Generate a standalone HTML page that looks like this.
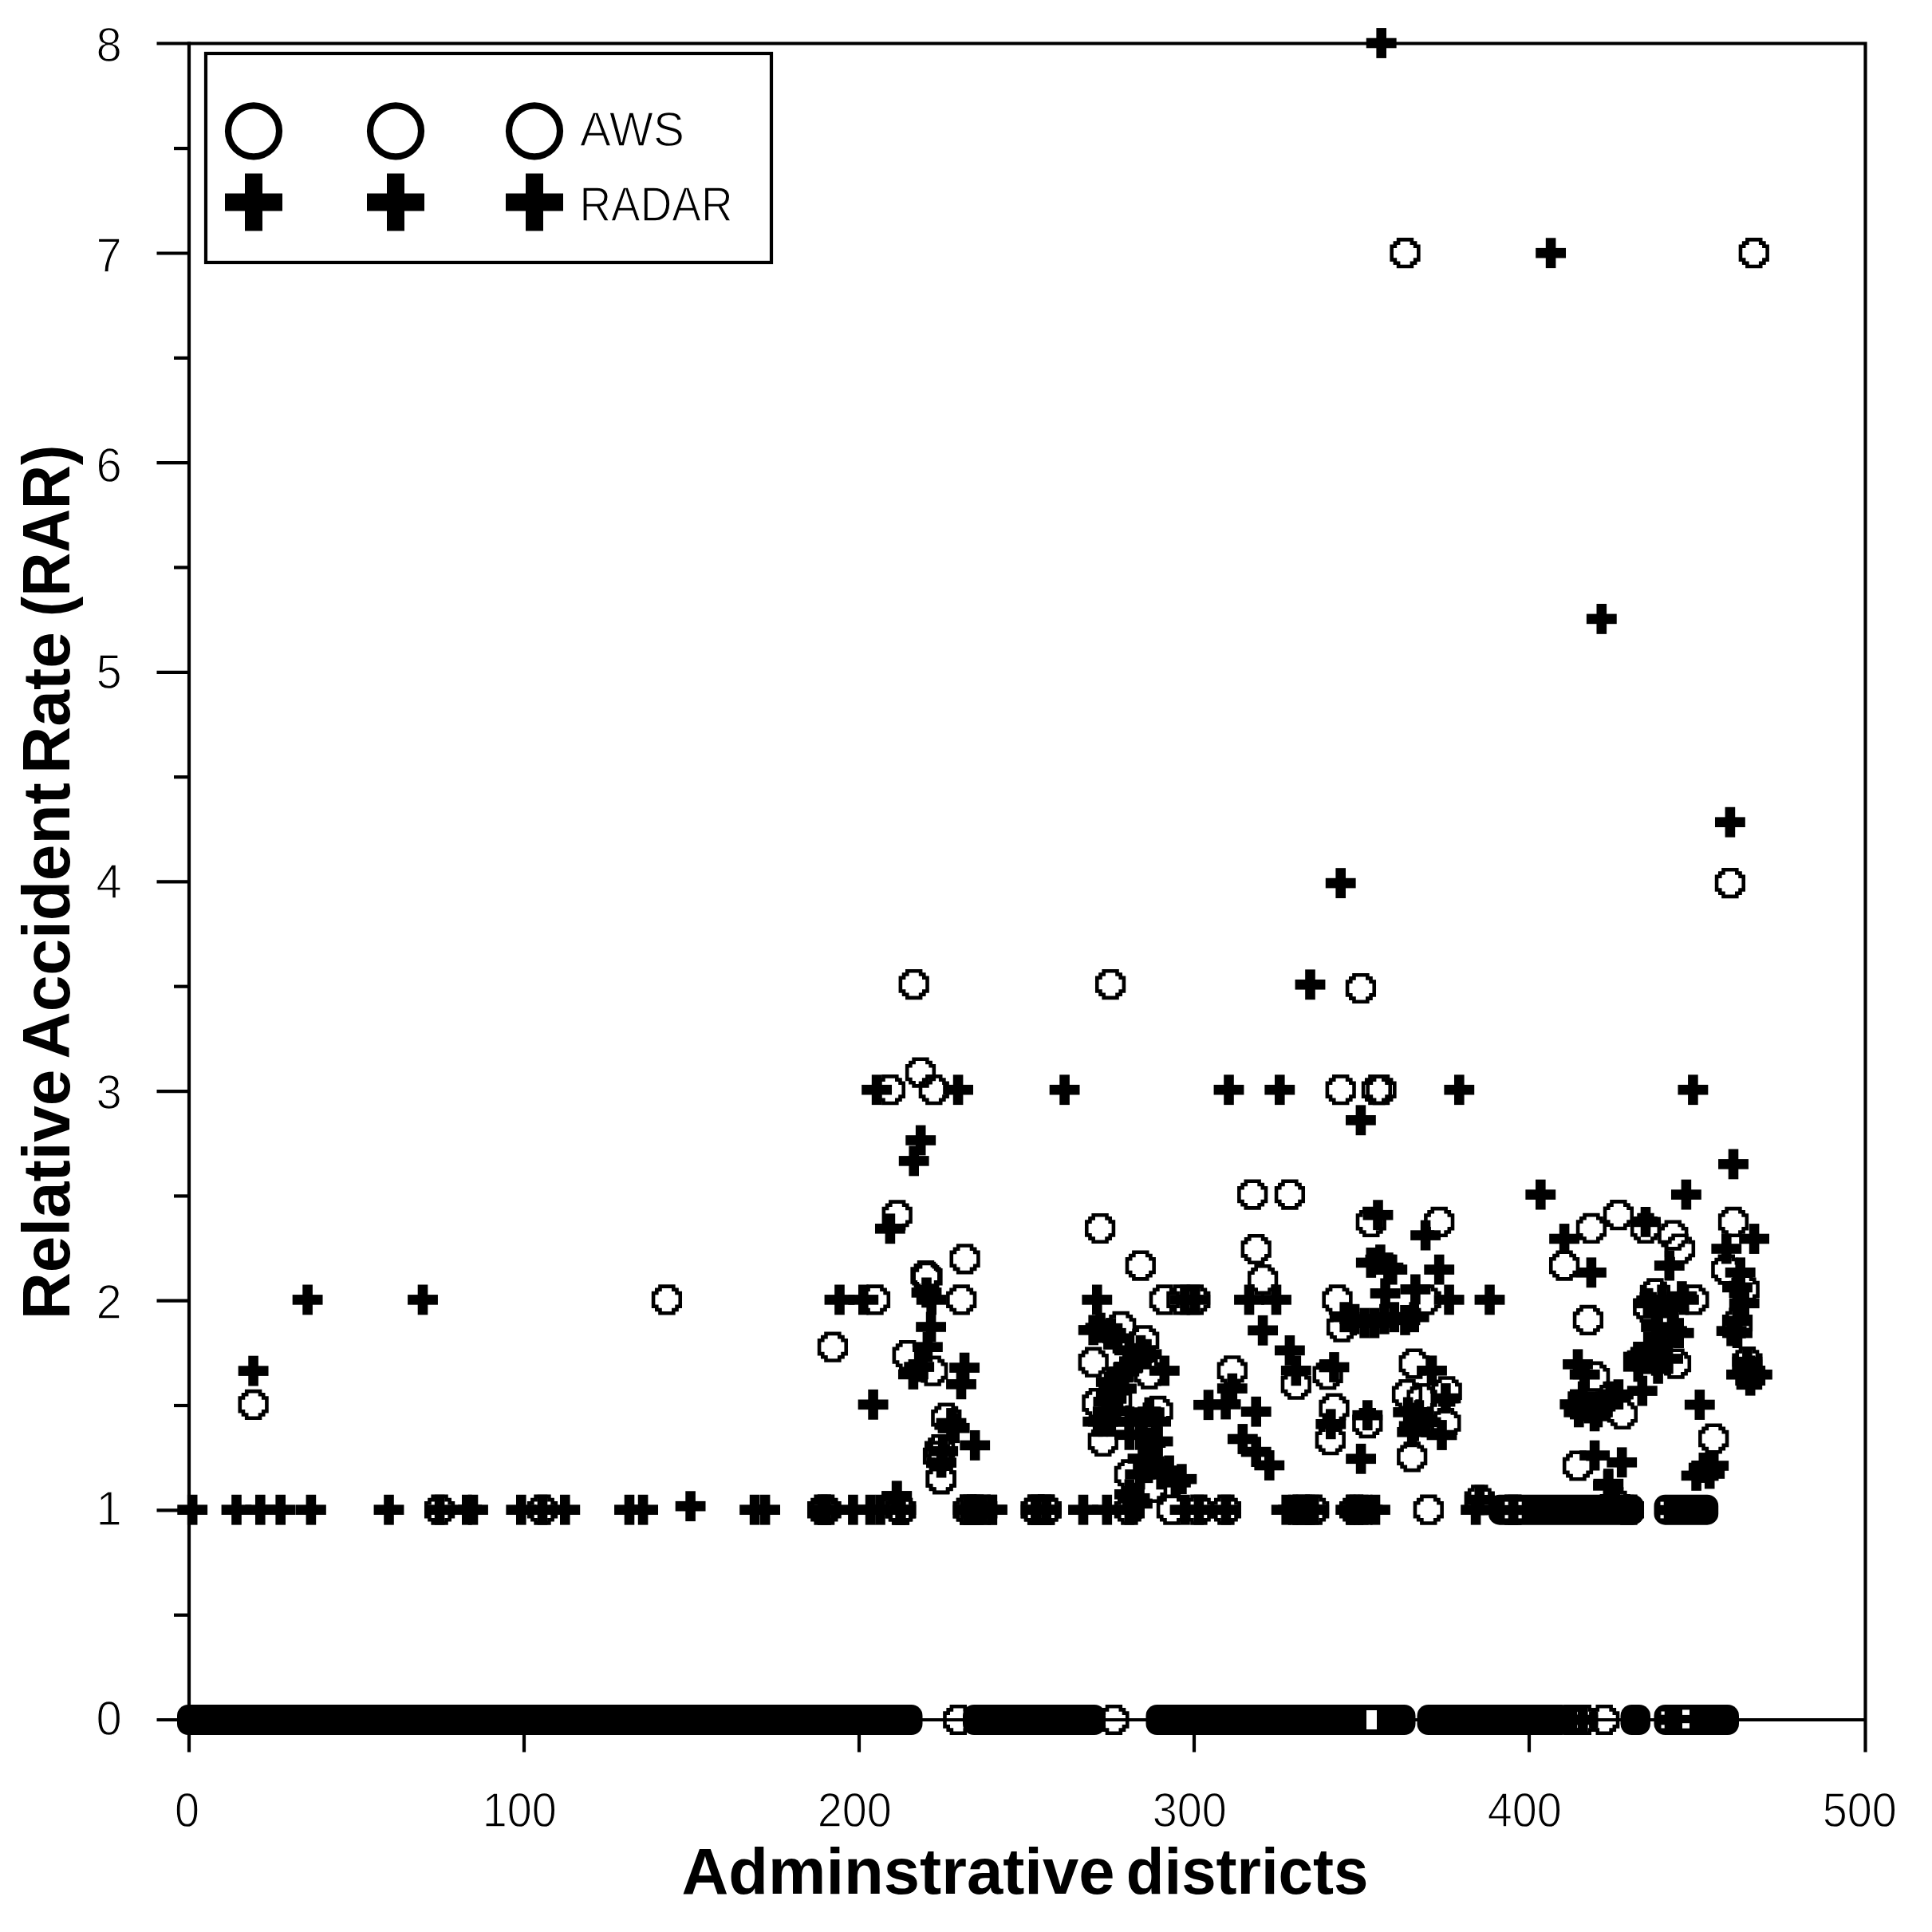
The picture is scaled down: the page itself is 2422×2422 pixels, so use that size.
<!DOCTYPE html>
<html><head><meta charset="utf-8"><title>Relative Accident Rate</title>
<style>html,body{margin:0;padding:0;background:#fff}svg{display:block}text{font-family:"Liberation Sans",sans-serif;fill:#000}.t{font-size:61px;stroke:#fff;stroke-width:1.3px}.b{font-weight:bold}</style></head><body>
<svg width="2422" height="2422" viewBox="0 0 2422 2422">
<rect width="2422" height="2422" fill="#fff"/>
<defs><g id="p"><rect x="-18.92" y="-6.31" width="37.84" height="12.61"/><rect x="-6.31" y="-18.92" width="12.61" height="37.84"/></g><path id="c" d="M-10.71 -19.12h21.42v4.60h-21.42zM-14.92 -14.92h8.81v4.60h-8.81zM6.11 -14.92h8.81v4.60h-8.81zM-19.12 -10.71h8.81v4.60h-8.81zM10.31 -10.71h8.81v4.60h-8.81zM-19.12 -6.51h4.60v4.60h-4.60zM14.52 -6.51h4.60v4.60h-4.60zM-19.12 -2.30h4.60v4.60h-4.60zM14.52 -2.30h4.60v4.60h-4.60zM-19.12 1.90h4.60v4.60h-4.60zM14.52 1.90h4.60v4.60h-4.60zM-19.12 6.11h8.81v4.60h-8.81zM10.31 6.11h8.81v4.60h-8.81zM-14.92 10.31h8.81v4.60h-8.81zM6.11 10.31h8.81v4.60h-8.81zM-10.71 14.52h21.42v4.60h-21.42z"/><g id="P"><rect x="-36" y="-11" width="72" height="22"/><rect x="-11" y="-36" width="22" height="72"/></g><circle id="Cc" r="32" fill="none" stroke="#000" stroke-width="8.2"/></defs>
<g stroke="#000" stroke-width="4.2" fill="none">
<path d="M196.5 54.5H2338.5V2196.5"/>
<path d="M237 52.4V2196.5"/>
<path d="M196.5 2156H2338.5"/>
<path d="M218 2024.7H237"/>
<path d="M196.5 1893.3H237"/>
<path d="M218 1762.0H237"/>
<path d="M196.5 1630.7H237"/>
<path d="M218 1499.4H237"/>
<path d="M196.5 1368.1H237"/>
<path d="M218 1236.7H237"/>
<path d="M196.5 1105.4H237"/>
<path d="M218 974.1H237"/>
<path d="M196.5 842.8H237"/>
<path d="M218 711.4H237"/>
<path d="M196.5 580.1H237"/>
<path d="M218 448.8H237"/>
<path d="M196.5 317.5H237"/>
<path d="M218 186.1H237"/>
<path d="M657.0 2156V2196.5"/>
<path d="M1077.0 2156V2196.5"/>
<path d="M1497.0 2156V2196.5"/>
<path d="M1917.0 2156V2196.5"/>
</g>
<rect x="258" y="67" width="709" height="262" fill="#fff" stroke="#000" stroke-width="4.2"/>
<use href="#Cc" x="318" y="164.3"/>
<use href="#P" x="318" y="253.5"/>
<use href="#Cc" x="496" y="164.3"/>
<use href="#P" x="496" y="253.5"/>
<use href="#Cc" x="670" y="164.3"/>
<use href="#P" x="670" y="253.5"/>
<text class="t" x="727" y="183.3" textLength="131" lengthAdjust="spacingAndGlyphs">AWS</text>
<text class="t" x="726.5" y="276.8" textLength="192" lengthAdjust="spacingAndGlyphs">RADAR</text>
<text class="t" transform="translate(152.8 2174.8) scale(0.95 1)" text-anchor="end">0</text>
<text class="t" transform="translate(152.8 1911.9) scale(0.95 1)" text-anchor="end">1</text>
<text class="t" transform="translate(152.8 1652.8) scale(0.95 1)" text-anchor="end">2</text>
<text class="t" transform="translate(152.8 1389.6) scale(0.95 1)" text-anchor="end">3</text>
<text class="t" transform="translate(152.8 1125.7) scale(0.95 1)" text-anchor="end">4</text>
<text class="t" transform="translate(152.8 862.7) scale(0.95 1)" text-anchor="end">5</text>
<text class="t" transform="translate(152.8 603.7) scale(0.95 1)" text-anchor="end">6</text>
<text class="t" transform="translate(152.8 340.6) scale(0.95 1)" text-anchor="end">7</text>
<text class="t" transform="translate(152.8 77.4) scale(0.95 1)" text-anchor="end">8</text>
<text class="t" transform="translate(234.5 2290.3) scale(0.915 1)" text-anchor="middle">0</text>
<text class="t" transform="translate(651.2 2290.3) scale(0.915 1)" text-anchor="middle">100</text>
<text class="t" transform="translate(1071.2 2290.3) scale(0.915 1)" text-anchor="middle">200</text>
<text class="t" transform="translate(1491.2 2290.3) scale(0.915 1)" text-anchor="middle">300</text>
<text class="t" transform="translate(1911.2 2290.3) scale(0.915 1)" text-anchor="middle">400</text>
<text class="t" transform="translate(2331.2 2290.3) scale(0.915 1)" text-anchor="middle">500</text>
<text class="b" font-size="81.5" x="854.5" y="2374.2" textLength="543" lengthAdjust="spacingAndGlyphs">Adminstrative</text>
<text class="b" font-size="81.5" x="1411.8" y="2374.2" textLength="303.6" lengthAdjust="spacingAndGlyphs">districts</text>
<text class="b" font-size="83" transform="translate(86.5 1654.3) rotate(-90)" textLength="313.6" lengthAdjust="spacingAndGlyphs">Relative</text>
<text class="b" font-size="83" transform="translate(86.5 1327.5) rotate(-90)" textLength="346.3" lengthAdjust="spacingAndGlyphs">Accident</text>
<text class="b" font-size="83" transform="translate(86.5 969.9) rotate(-90)" textLength="177.8" lengthAdjust="spacingAndGlyphs">Rate</text>
<text class="b" font-size="83" transform="translate(86.5 772.9) rotate(-90)" textLength="215.1" lengthAdjust="spacingAndGlyphs">(RAR)</text>
<g fill="#000">
<rect x="222.0" y="2137.0" width="934.5" height="38" rx="14" ry="14"/>
<rect x="1207.0" y="2137.0" width="179.0" height="38" rx="14" ry="14"/>
<rect x="1436.5" y="2137.0" width="338.0" height="38" rx="14" ry="14"/>
<rect x="1776.5" y="2137.0" width="195.5" height="38" rx="14" ry="14"/>
<rect x="2031.5" y="2137.0" width="37.5" height="38" rx="14" ry="14"/>
<rect x="2073.5" y="2137.0" width="106.5" height="38" rx="14" ry="14"/>
<rect x="1866.0" y="1873.7" width="195.0" height="38" rx="14" ry="14"/>
<rect x="2073.5" y="1873.7" width="80.7" height="38" rx="14" ry="14"/>
<use href="#p" x="385.6" y="1629.4"/>
<use href="#p" x="530.0" y="1629.4"/>
<use href="#p" x="317.6" y="1718.6"/>
<use href="#p" x="241.2" y="1892.7"/>
<use href="#p" x="296.5" y="1892.7"/>
<use href="#p" x="326.3" y="1892.7"/>
<use href="#p" x="351.7" y="1892.7"/>
<use href="#p" x="389.9" y="1892.7"/>
<use href="#p" x="487.5" y="1892.7"/>
<use href="#p" x="551.1" y="1892.7"/>
<use href="#p" x="585.3" y="1892.7"/>
<use href="#p" x="593.0" y="1892.7"/>
<use href="#p" x="653.3" y="1892.7"/>
<use href="#p" x="680.0" y="1892.7"/>
<use href="#p" x="708.3" y="1892.7"/>
<use href="#p" x="789.0" y="1892.7"/>
<use href="#p" x="806.1" y="1892.7"/>
<use href="#p" x="865.6" y="1888.2"/>
<use href="#p" x="946.1" y="1892.7"/>
<use href="#p" x="959.1" y="1892.7"/>
<use href="#p" x="1161.5" y="1620.4"/>
<use href="#p" x="1167.7" y="1629.4"/>
<use href="#p" x="1167.1" y="1663.5"/>
<use href="#p" x="1162.9" y="1688.7"/>
<use href="#p" x="1144.9" y="1722.9"/>
<use href="#p" x="1152.2" y="1713.6"/>
<use href="#p" x="1209.1" y="1714.6"/>
<use href="#p" x="1205.0" y="1735.3"/>
<use href="#p" x="1094.6" y="1760.8"/>
<use href="#p" x="1192.5" y="1784.0"/>
<use href="#p" x="1196.7" y="1790.2"/>
<use href="#p" x="1222.2" y="1811.9"/>
<use href="#p" x="1182.2" y="1819.2"/>
<use href="#p" x="1180.1" y="1833.6"/>
<use href="#p" x="1124.2" y="1875.5"/>
<use href="#p" x="1031.1" y="1892.7"/>
<use href="#p" x="1035.6" y="1892.7"/>
<use href="#p" x="1069.4" y="1892.7"/>
<use href="#p" x="1091.1" y="1892.7"/>
<use href="#p" x="1103.5" y="1892.7"/>
<use href="#p" x="1129.4" y="1892.7"/>
<use href="#p" x="1213.7" y="1892.7"/>
<use href="#p" x="1222.6" y="1892.7"/>
<use href="#p" x="1243.9" y="1892.7"/>
<use href="#p" x="1298.6" y="1892.7"/>
<use href="#p" x="1311.6" y="1892.7"/>
<use href="#p" x="1099.1" y="1366.2"/>
<use href="#p" x="1201.1" y="1366.2"/>
<use href="#p" x="1334.6" y="1366.2"/>
<use href="#p" x="1154.2" y="1429.5"/>
<use href="#p" x="1145.7" y="1455.4"/>
<use href="#p" x="1115.9" y="1540.3"/>
<use href="#p" x="1052.5" y="1629.4"/>
<use href="#p" x="1082.3" y="1629.4"/>
<use href="#p" x="1375.3" y="1629.4"/>
<use href="#p" x="1566.0" y="1629.4"/>
<use href="#p" x="1600.0" y="1629.4"/>
<use href="#p" x="1583.1" y="1667.8"/>
<use href="#p" x="1616.9" y="1692.9"/>
<use href="#p" x="1624.8" y="1718.3"/>
<use href="#p" x="1672.5" y="1714.0"/>
<use href="#p" x="1727.5" y="1523.2"/>
<use href="#p" x="1787.1" y="1548.6"/>
<use href="#p" x="1718.8" y="1582.9"/>
<use href="#p" x="1745.3" y="1591.6"/>
<use href="#p" x="1804.2" y="1591.6"/>
<use href="#p" x="1736.6" y="1621.4"/>
<use href="#p" x="1774.4" y="1616.4"/>
<use href="#p" x="1816.6" y="1629.4"/>
<use href="#p" x="1685.7" y="1651.2"/>
<use href="#p" x="1710.6" y="1658.6"/>
<use href="#p" x="1735.4" y="1653.7"/>
<use href="#p" x="1761.5" y="1654.9"/>
<use href="#p" x="1515.0" y="1761.2"/>
<use href="#p" x="1544.8" y="1740.6"/>
<use href="#p" x="1536.6" y="1760.5"/>
<use href="#p" x="1574.7" y="1769.7"/>
<use href="#p" x="1557.8" y="1804.0"/>
<use href="#p" x="1574.7" y="1820.1"/>
<use href="#p" x="1591.3" y="1837.0"/>
<use href="#p" x="1795.0" y="1718.3"/>
<use href="#p" x="1812.4" y="1753.0"/>
<use href="#p" x="1778.9" y="1774.2"/>
<use href="#p" x="1668.3" y="1785.3"/>
<use href="#p" x="1714.3" y="1774.2"/>
<use href="#p" x="1706.1" y="1828.8"/>
<use href="#p" x="1770.2" y="1795.3"/>
<use href="#p" x="1807.5" y="1799.0"/>
<use href="#p" x="1612.7" y="1892.7"/>
<use href="#p" x="1647.2" y="1892.7"/>
<use href="#p" x="1698.1" y="1892.7"/>
<use href="#p" x="1724.0" y="1892.7"/>
<use href="#p" x="1631.1" y="1892.7"/>
<use href="#p" x="1730.4" y="1579.1"/>
<use href="#p" x="1740.4" y="1589.1"/>
<use href="#p" x="1698.1" y="1653.7"/>
<use href="#p" x="1723.0" y="1658.6"/>
<use href="#p" x="1747.8" y="1651.2"/>
<use href="#p" x="1772.7" y="1651.2"/>
<use href="#p" x="1772.7" y="1787.8"/>
<use href="#p" x="1765.2" y="1770.4"/>
<use href="#p" x="1787.6" y="1782.9"/>
<use href="#p" x="1621.1" y="1892.7"/>
<use href="#p" x="1638.5" y="1892.7"/>
<use href="#p" x="1626.1" y="1892.7"/>
<use href="#p" x="1642.2" y="1892.7"/>
<use href="#p" x="1693.2" y="1892.7"/>
<use href="#p" x="1703.1" y="1892.7"/>
<use href="#p" x="1709.3" y="1892.7"/>
<use href="#p" x="1714.3" y="1892.7"/>
<use href="#p" x="1370.7" y="1667.4"/>
<use href="#p" x="1392.8" y="1671.2"/>
<use href="#p" x="1430.0" y="1692.8"/>
<use href="#p" x="1459.8" y="1718.4"/>
<use href="#p" x="1409.3" y="1719.3"/>
<use href="#p" x="1396.1" y="1737.5"/>
<use href="#p" x="1389.4" y="1757.3"/>
<use href="#p" x="1440.8" y="1770.6"/>
<use href="#p" x="1382.8" y="1782.2"/>
<use href="#p" x="1415.9" y="1798.8"/>
<use href="#p" x="1451.6" y="1807.0"/>
<use href="#p" x="1440.8" y="1831.9"/>
<use href="#p" x="1465.6" y="1843.5"/>
<use href="#p" x="1481.4" y="1854.2"/>
<use href="#p" x="1429.2" y="1848.4"/>
<use href="#p" x="1422.6" y="1878.3"/>
<use href="#p" x="1358.0" y="1892.7"/>
<use href="#p" x="1387.8" y="1892.7"/>
<use href="#p" x="1415.9" y="1892.7"/>
<use href="#p" x="1485.5" y="1892.7"/>
<use href="#p" x="1502.9" y="1892.7"/>
<use href="#p" x="1536.9" y="1892.7"/>
<use href="#p" x="1485.5" y="1629.4"/>
<use href="#p" x="1498.3" y="1629.4"/>
<use href="#p" x="1379.5" y="1664.6"/>
<use href="#p" x="1389.4" y="1672.9"/>
<use href="#p" x="1401.0" y="1677.8"/>
<use href="#p" x="1415.9" y="1692.8"/>
<use href="#p" x="1437.5" y="1697.7"/>
<use href="#p" x="1425.9" y="1702.7"/>
<use href="#p" x="1414.3" y="1714.3"/>
<use href="#p" x="1402.7" y="1725.9"/>
<use href="#p" x="1392.8" y="1732.5"/>
<use href="#p" x="1406.0" y="1740.8"/>
<use href="#p" x="1392.8" y="1749.1"/>
<use href="#p" x="1399.4" y="1768.9"/>
<use href="#p" x="1376.2" y="1782.2"/>
<use href="#p" x="1392.8" y="1782.2"/>
<use href="#p" x="1415.9" y="1782.2"/>
<use href="#p" x="1432.5" y="1782.2"/>
<use href="#p" x="1449.1" y="1782.2"/>
<use href="#p" x="1429.2" y="1798.8"/>
<use href="#p" x="1442.4" y="1808.7"/>
<use href="#p" x="1432.5" y="1828.6"/>
<use href="#p" x="1449.1" y="1835.2"/>
<use href="#p" x="1439.1" y="1840.2"/>
<use href="#p" x="1455.7" y="1848.4"/>
<use href="#p" x="1473.9" y="1858.4"/>
<use href="#p" x="1415.9" y="1873.3"/>
<use href="#p" x="1425.9" y="1884.9"/>
<use href="#p" x="2173.0" y="1459.4"/>
<use href="#p" x="1931.3" y="1497.6"/>
<use href="#p" x="2113.9" y="1497.6"/>
<use href="#p" x="2063.0" y="1531.9"/>
<use href="#p" x="1961.1" y="1553.0"/>
<use href="#p" x="2199.1" y="1553.0"/>
<use href="#p" x="2164.3" y="1565.5"/>
<use href="#p" x="1994.9" y="1595.3"/>
<use href="#p" x="2092.8" y="1586.6"/>
<use href="#p" x="1867.5" y="1629.4"/>
<use href="#p" x="2181.7" y="1595.3"/>
<use href="#p" x="2108.4" y="1625.1"/>
<use href="#p" x="2186.7" y="1633.8"/>
<use href="#p" x="2078.6" y="1646.2"/>
<use href="#p" x="2104.7" y="1671.1"/>
<use href="#p" x="2178.0" y="1671.1"/>
<use href="#p" x="2066.2" y="1688.4"/>
<use href="#p" x="2053.8" y="1700.9"/>
<use href="#p" x="2076.1" y="1705.8"/>
<use href="#p" x="1978.0" y="1710.3"/>
<use href="#p" x="1986.7" y="1723.2"/>
<use href="#p" x="2194.2" y="1718.3"/>
<use href="#p" x="2194.2" y="1730.7"/>
<use href="#p" x="2058.8" y="1743.6"/>
<use href="#p" x="2028.9" y="1748.1"/>
<use href="#p" x="1974.3" y="1760.5"/>
<use href="#p" x="1991.7" y="1765.5"/>
<use href="#p" x="2002.9" y="1770.4"/>
<use href="#p" x="2130.8" y="1761.0"/>
<use href="#p" x="1999.1" y="1824.6"/>
<use href="#p" x="2033.2" y="1833.3"/>
<use href="#p" x="2148.2" y="1837.5"/>
<use href="#p" x="2126.6" y="1849.9"/>
<use href="#p" x="2143.2" y="1847.5"/>
<use href="#p" x="2016.0" y="1862.4"/>
<use href="#p" x="2066.2" y="1633.8"/>
<use href="#p" x="2083.6" y="1629.4"/>
<use href="#p" x="2098.5" y="1638.8"/>
<use href="#p" x="2110.9" y="1629.4"/>
<use href="#p" x="2076.1" y="1663.6"/>
<use href="#p" x="2096.0" y="1668.6"/>
<use href="#p" x="2083.6" y="1683.5"/>
<use href="#p" x="2071.2" y="1698.4"/>
<use href="#p" x="2091.1" y="1703.4"/>
<use href="#p" x="2053.8" y="1713.3"/>
<use href="#p" x="2078.6" y="1715.8"/>
<use href="#p" x="2178.0" y="1613.9"/>
<use href="#p" x="2178.0" y="1656.1"/>
<use href="#p" x="2170.6" y="1668.6"/>
<use href="#p" x="2190.4" y="1707.1"/>
<use href="#p" x="2183.0" y="1723.2"/>
<use href="#p" x="2202.9" y="1723.2"/>
<use href="#p" x="1984.2" y="1750.6"/>
<use href="#p" x="2009.1" y="1760.5"/>
<use href="#p" x="2019.0" y="1750.6"/>
<use href="#p" x="1979.3" y="1770.4"/>
<use href="#p" x="1999.1" y="1775.4"/>
<use href="#p" x="2135.8" y="1840.0"/>
<use href="#p" x="2007.8" y="775.9"/>
<use href="#p" x="2168.9" y="1030.7"/>
<use href="#p" x="1680.7" y="1107.1"/>
<use href="#p" x="1642.5" y="1234.3"/>
<use href="#p" x="1540.5" y="1366.2"/>
<use href="#p" x="1604.3" y="1366.2"/>
<use href="#p" x="1829.3" y="1366.2"/>
<use href="#p" x="2122.4" y="1366.2"/>
<use href="#p" x="1705.9" y="1404.3"/>
<use href="#p" x="1731.7" y="54.0"/>
<use href="#p" x="1944.1" y="317.2"/>
<use href="#p" x="1124.2" y="1875.6"/>
<use href="#p" x="1128.6" y="1892.7"/>
<use href="#p" x="1243.7" y="1892.7"/>
<use href="#p" x="1213.7" y="1892.7"/>
<use href="#p" x="1231.2" y="1892.7"/>
<use href="#p" x="1298.9" y="1892.7"/>
<use href="#p" x="1311.6" y="1892.7"/>
<use href="#p" x="1850.1" y="1892.7"/>
<use href="#p" x="1854.8" y="1880.3"/>
<use href="#p" x="1896.8" y="1892.7"/>
<use href="#p" x="2024.7" y="1883.6"/>
<use href="#p" x="2016.3" y="1860.1"/>
<use href="#p" x="1984.3" y="2156.0"/>
<use href="#p" x="1971.0" y="2156.0"/>
</g>
<use href="#c" x="317.6" y="1760.9"/>
<use href="#c" x="551.1" y="1892.7"/>
<use href="#c" x="680.0" y="1892.7"/>
<use href="#c" x="835.9" y="1629.4"/>
<use href="#c" x="1043.9" y="1688.7"/>
<use href="#c" x="1137.7" y="1699.1"/>
<use href="#c" x="1169.2" y="1718.7"/>
<use href="#c" x="1186.3" y="1777.7"/>
<use href="#c" x="1178.1" y="1817.1"/>
<use href="#c" x="1176.0" y="1825.4"/>
<use href="#c" x="1179.7" y="1854.3"/>
<use href="#c" x="1031.1" y="1892.7"/>
<use href="#c" x="1035.6" y="1892.7"/>
<use href="#c" x="1129.4" y="1892.7"/>
<use href="#c" x="1213.7" y="1892.7"/>
<use href="#c" x="1222.6" y="1892.7"/>
<use href="#c" x="1298.6" y="1892.7"/>
<use href="#c" x="1311.6" y="1892.7"/>
<use href="#c" x="1145.7" y="1234.1"/>
<use href="#c" x="1392.1" y="1234.1"/>
<use href="#c" x="1154.0" y="1344.6"/>
<use href="#c" x="1115.9" y="1366.2"/>
<use href="#c" x="1170.8" y="1366.2"/>
<use href="#c" x="1124.7" y="1523.4"/>
<use href="#c" x="1379.1" y="1540.0"/>
<use href="#c" x="1209.6" y="1578.3"/>
<use href="#c" x="1160.5" y="1599.0"/>
<use href="#c" x="1162.5" y="1600.8"/>
<use href="#c" x="1097.0" y="1629.4"/>
<use href="#c" x="1205.2" y="1629.4"/>
<use href="#c" x="1570.2" y="1497.6"/>
<use href="#c" x="1616.9" y="1497.6"/>
<use href="#c" x="1574.7" y="1566.0"/>
<use href="#c" x="1583.1" y="1604.0"/>
<use href="#c" x="1429.8" y="1586.6"/>
<use href="#c" x="1676.5" y="1629.4"/>
<use href="#c" x="1718.8" y="1531.9"/>
<use href="#c" x="1804.2" y="1531.9"/>
<use href="#c" x="1682.0" y="1663.6"/>
<use href="#c" x="1787.6" y="1629.4"/>
<use href="#c" x="1544.8" y="1718.3"/>
<use href="#c" x="1624.8" y="1735.7"/>
<use href="#c" x="1664.6" y="1723.2"/>
<use href="#c" x="1672.5" y="1765.5"/>
<use href="#c" x="1714.3" y="1784.1"/>
<use href="#c" x="1667.8" y="1805.2"/>
<use href="#c" x="1772.7" y="1709.6"/>
<use href="#c" x="1764.0" y="1748.1"/>
<use href="#c" x="1782.6" y="1753.0"/>
<use href="#c" x="1813.7" y="1744.3"/>
<use href="#c" x="1812.4" y="1784.1"/>
<use href="#c" x="1770.2" y="1826.3"/>
<use href="#c" x="1790.8" y="1892.7"/>
<use href="#c" x="1647.2" y="1892.7"/>
<use href="#c" x="1698.1" y="1892.7"/>
<use href="#c" x="1631.1" y="1892.7"/>
<use href="#c" x="1405.2" y="1662.9"/>
<use href="#c" x="1434.2" y="1680.3"/>
<use href="#c" x="1370.7" y="1707.7"/>
<use href="#c" x="1440.8" y="1722.6"/>
<use href="#c" x="1375.4" y="1759.0"/>
<use href="#c" x="1400.2" y="1755.7"/>
<use href="#c" x="1451.6" y="1768.9"/>
<use href="#c" x="1382.8" y="1807.0"/>
<use href="#c" x="1415.9" y="1848.4"/>
<use href="#c" x="1444.1" y="1865.0"/>
<use href="#c" x="1415.9" y="1892.7"/>
<use href="#c" x="1468.9" y="1892.7"/>
<use href="#c" x="1502.9" y="1892.7"/>
<use href="#c" x="1536.9" y="1892.7"/>
<use href="#c" x="1459.8" y="1629.4"/>
<use href="#c" x="1481.4" y="1629.4"/>
<use href="#c" x="1498.3" y="1629.4"/>
<use href="#c" x="2028.9" y="1523.2"/>
<use href="#c" x="1994.9" y="1539.9"/>
<use href="#c" x="2063.0" y="1539.9"/>
<use href="#c" x="2097.3" y="1548.6"/>
<use href="#c" x="2106.0" y="1565.5"/>
<use href="#c" x="1961.1" y="1586.6"/>
<use href="#c" x="2173.0" y="1531.9"/>
<use href="#c" x="2164.3" y="1591.6"/>
<use href="#c" x="2186.7" y="1616.4"/>
<use href="#c" x="2074.9" y="1621.4"/>
<use href="#c" x="2123.4" y="1629.4"/>
<use href="#c" x="2066.2" y="1638.8"/>
<use href="#c" x="1990.9" y="1654.9"/>
<use href="#c" x="2178.0" y="1658.6"/>
<use href="#c" x="2058.8" y="1703.4"/>
<use href="#c" x="2101.0" y="1709.6"/>
<use href="#c" x="1999.1" y="1725.7"/>
<use href="#c" x="2033.9" y="1772.9"/>
<use href="#c" x="2148.2" y="1803.5"/>
<use href="#c" x="1978.0" y="1837.5"/>
<use href="#c" x="2190.4" y="1707.1"/>
<use href="#c" x="2168.9" y="1107.1"/>
<use href="#c" x="1705.9" y="1239.0"/>
<use href="#c" x="1680.7" y="1366.2"/>
<use href="#c" x="1725.9" y="1366.2"/>
<use href="#c" x="1731.5" y="1366.2"/>
<use href="#c" x="1761.5" y="317.2"/>
<use href="#c" x="2198.8" y="317.2"/>
<use href="#c" x="1128.6" y="1892.7"/>
<use href="#c" x="1179.7" y="1854.0"/>
<use href="#c" x="1213.7" y="1892.7"/>
<use href="#c" x="1231.2" y="1892.7"/>
<use href="#c" x="1298.9" y="1892.7"/>
<use href="#c" x="1311.6" y="1892.7"/>
<use href="#c" x="1854.8" y="1880.3"/>
<use href="#c" x="1896.8" y="1892.7"/>
<use href="#c" x="2024.7" y="1883.6"/>
<use href="#c" x="2041.9" y="1892.7"/>
<use href="#c" x="1201.3" y="2156.0"/>
<use href="#c" x="1396.4" y="2156.0"/>
<use href="#c" x="1984.3" y="2156.0"/>
<use href="#c" x="2011.2" y="2156.0"/>
<use href="#c" x="1971.0" y="2156.0"/>
<g fill="#fff">
<rect x="1713" y="2144" width="13" height="24"/>
<rect x="1886.5" y="1882.6" width="4.2" height="4.2"/>
<rect x="1886.5" y="1899.2" width="4.2" height="4.2"/>
<rect x="1903.5" y="1882.6" width="4.2" height="4.2"/>
<rect x="1903.5" y="1899.2" width="4.2" height="4.2"/>
<rect x="2081.5" y="1882.6" width="4.2" height="4.2"/>
<rect x="2081.5" y="1899.2" width="4.2" height="4.2"/>
<rect x="2082.5" y="2145.5" width="4.2" height="4.2"/>
<rect x="2109" y="2143.4" width="9" height="6.5"/>
<rect x="2082.5" y="2162.3" width="4.2" height="4.2"/>
<rect x="2109" y="2160.2" width="9" height="6.5"/>
</g>
</svg></body></html>
